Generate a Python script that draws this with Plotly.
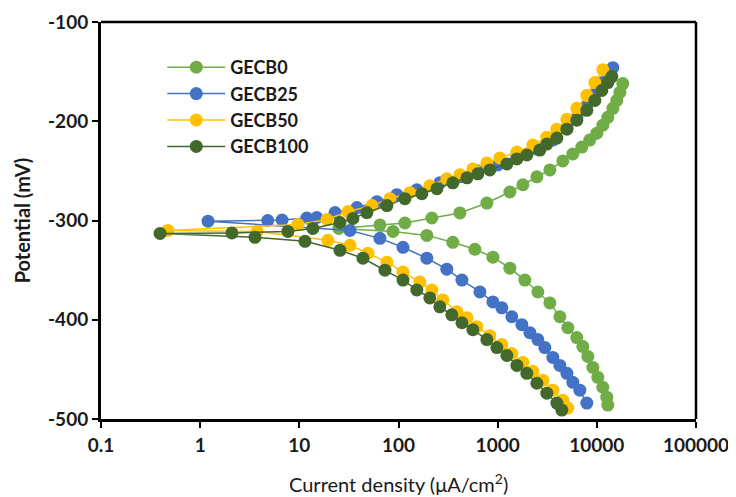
import plotly.graph_objects as go

# ---- data (current density in uA/cm2, potential in mV) ----
gecb0_i = [12900, 12610, 11490, 10230, 9120, 8110, 7230, 6280, 5100, 4236, 3360, 2543, 1880, 1327, 895, 589, 353, 193, 88,
           25, 65, 116, 217, 416, 778, 1327, 1795, 2485, 3360, 4540, 5730, 7060, 8490, 10000, 11490, 12900, 14500, 15900, 17060, 18280]
gecb0_e = [-486, -478, -468, -458, -448, -437, -427, -418, -408, -397, -383, -372, -360, -348, -337, -329, -322, -315, -311,
           -308, -304.5, -302.5, -297.5, -292.4, -282.4, -271.3, -264, -256, -249, -240, -233, -226, -219, -212, -204, -196, -187, -179, -171, -162]

gecb25_i = [7925, 6745, 5730, 4990, 4236, 3600, 2992, 2543, 2113, 1754, 1390, 1102, 895, 662, 436, 307, 193, 111, 64.9, 32.4,
            1.2, 4.8, 6.7, 11.9, 15.0, 22.9, 38.1, 60.6, 96.3, 153, 261, 416, 630, 1000, 1563, 2485, 3600, 4990, 6300, 7925, 9550, 11490, 13000, 14500]
gecb25_e = [-484, -471, -463, -454, -446, -438, -428, -420, -413, -405, -397, -388, -382, -372, -360, -349, -338, -327, -318, -310,
            -300.7, -300, -299.5, -297.5, -297, -292, -287, -281, -274, -269, -262, -256, -250, -244, -236, -228, -219, -207, -196, -184, -172, -161, -153, -146]

gecb50_i = [5100, 4540, 3600, 2857, 2265, 1795, 1390, 1102, 834, 617, 490, 388, 280, 217, 164, 111, 76.4, 49.2, 32.4, 19.4, 3.74,
            0.473, 9.7, 19, 31, 54, 82, 130, 207, 307, 416, 562, 778, 1052, 1563, 2265, 3133, 3954, 4990, 6281, 7925, 9550, 11490]
gecb50_e = [-489, -481, -471, -461, -452, -443, -434, -425, -416, -407, -398, -392, -380, -370, -362, -352, -342, -333, -325, -320, -311,
            -310, -304, -299, -291, -285, -278, -272, -265, -258, -254, -248, -242, -237, -231, -224, -216, -208, -198, -187, -174, -161, -148]

gecb100_i = [4436, 3954, 3133, 2485, 1968, 1563, 1239, 982, 778, 562, 436, 345, 261, 207, 153, 111, 73, 43.8, 25.7, 11.4, 3.57,
             0.394, 2.09, 7.67, 13.7, 25.7, 34.7, 48, 76.4, 116, 172, 244, 353, 490, 631, 834, 1239, 1563, 1968, 2661, 3133, 3954, 4990, 6281, 7925, 9550, 11220, 12910, 14160]
gecb100_e = [-491, -484, -474, -464, -454, -446, -436, -428, -420, -410, -403, -395, -387, -378, -370, -360, -350, -338, -330, -321, -317,
             -313, -312.5, -311, -308, -302, -298, -292, -285, -278, -273, -268, -262, -257, -253, -249, -243, -238, -234, -229, -223, -217, -208, -199, -189, -179, -169, -161, -155]

names = ["GECB0", "GECB25", "GECB50", "GECB100"]
colors = ["#70AD47", "#4472C4", "#FFC000", "#43682B"]
series = [(gecb0_i, gecb0_e), (gecb25_i, gecb25_e), (gecb50_i, gecb50_e), (gecb100_i, gecb100_e)]

x_ticks = [0.1, 1, 10, 100, 1000, 10000, 100000]
x_ticktext = ["0.1", "1", "10", "100", "1000", "10000", "100000"]
y_ticks = [-500, -400, -300, -200, -100]
y_ticktext = ["-500", "-400", "-300", "-200", "-100"]

FONT = "Lato, 'Open Sans', sans-serif"
TXT = "#1a1a1a"

fig = go.Figure()
for (xi, ye), nm, col in zip(series, names, colors):
    fig.add_trace(go.Scatter(
        x=xi, y=ye, name=nm, mode="lines+markers",
        line=dict(color=col, width=1.5),
        marker=dict(color=col, size=13, line=dict(width=0)),
    ))

# page body has an 8px margin, so the figure is sized 8px smaller
fig.update_layout(
    width=728, height=489,
    margin=dict(l=93, r=40, t=14, b=78),
    paper_bgcolor="white", plot_bgcolor="white",
    font=dict(family=FONT, color=TXT),
    showlegend=True,
    legend=dict(
        x=0.103, y=0.932, xanchor="left", yanchor="top",
        bgcolor="rgba(0,0,0,0)",
        font=dict(family=FONT, size=18, color=TXT, weight="bold"),
        tracegroupgap=0, itemwidth=58,
    ),
)

fig.update_xaxes(
    type="log", range=[-1, 5], automargin=False,
    tickvals=x_ticks, ticktext=x_ticktext,
    ticks="outside", ticklen=6, tickwidth=2, tickcolor="black",
    showline=True, linecolor="black", linewidth=3,
    showgrid=False, zeroline=False, ticklabelstandoff=1,
    tickfont=dict(family=FONT, size=19, color=TXT, weight="bold"),
)
fig.update_yaxes(
    range=[-500, -100], automargin=False,
    tickvals=y_ticks, ticktext=y_ticktext,
    ticks="outside", ticklen=6, tickwidth=2, tickcolor="black",
    showline=True, linecolor="black", linewidth=3,
    showgrid=False, zeroline=False,
    tickfont=dict(family=FONT, size=19, color=TXT, weight="bold"),
)

fig.add_annotation(text="Current density (\u03bcA/cm<sup>2</sup>)", xref="paper", yref="paper",
                   x=0.5, y=-0.161, xanchor="center", yanchor="middle", showarrow=False,
                   font=dict(family=FONT, size=20, color=TXT))
fig.add_annotation(text="<b>Potential (mV)</b>", xref="paper", yref="paper",
                   x=-0.133, y=0.5, xanchor="center", yanchor="middle", showarrow=False, textangle=-90,
                   font=dict(family=FONT, size=20, color=TXT))

fig.add_shape(type="line", xref="x domain", yref="y domain", x0=0, x1=1, y0=1, y1=1,
              line=dict(color="black", width=2.5))
fig.add_shape(type="line", xref="x domain", yref="y domain", x0=1, x1=1, y0=0, y1=1,
              line=dict(color="black", width=2.5))

fig.write_html("out.html")
